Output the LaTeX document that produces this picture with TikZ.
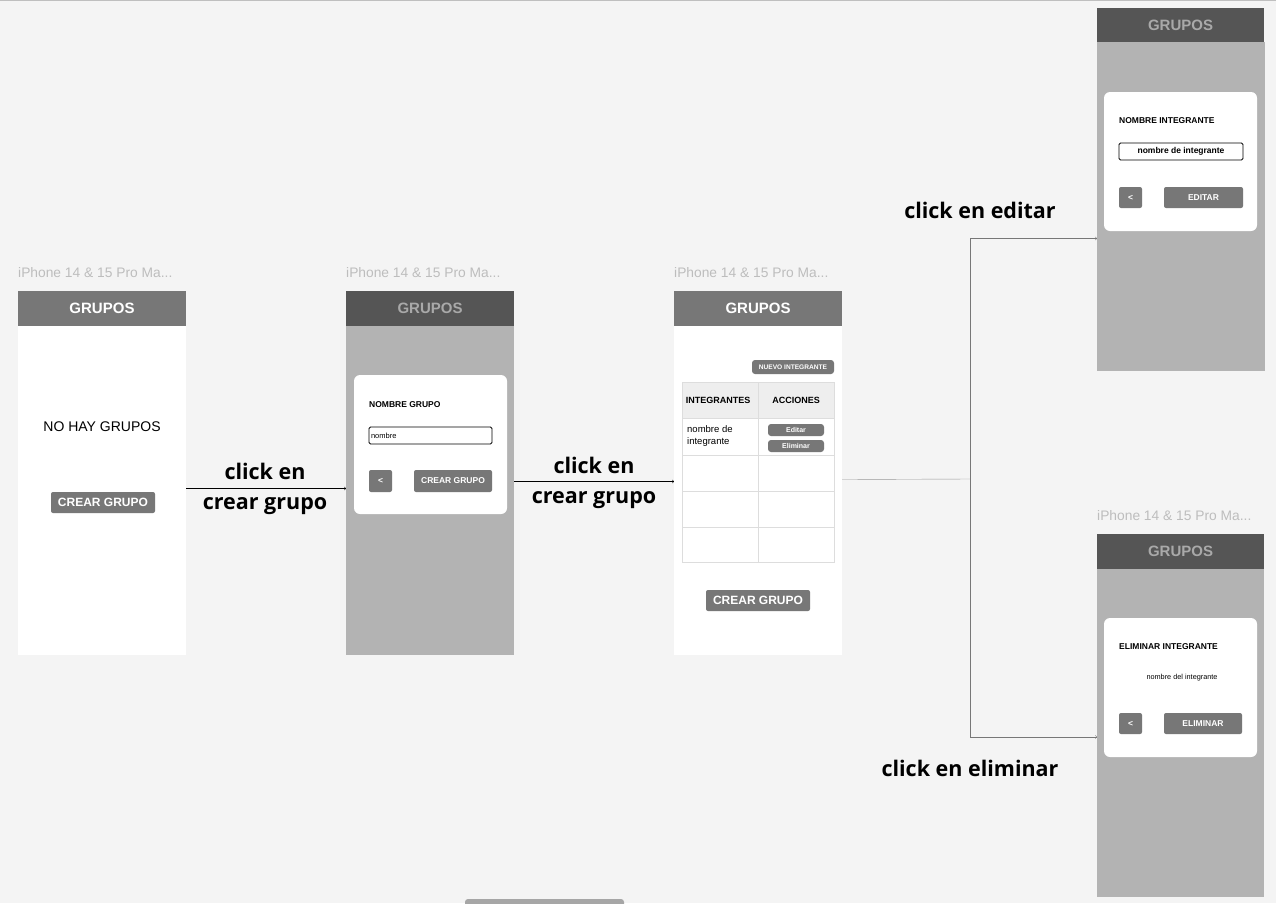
\documentclass[tikz,border=0pt]{standalone}
\usepackage{fontspec}
\setmainfont{Liberation Sans}
\newfontfamily\clickfont{Open Sans}
\usetikzlibrary{shapes,arrows,positioning,calc}
\definecolor{fondo}{HTML}{F4F4F4}
\definecolor{cabecera}{HTML}{777777}
\definecolor{cabeceraosc}{HTML}{555555}
\definecolor{textoosc}{HTML}{A9A9A9}
\definecolor{velo}{HTML}{B3B3B3}
\definecolor{boton}{HTML}{777777}
\definecolor{etiqueta}{HTML}{BDBDBD}
\definecolor{tcabeza}{HTML}{EEEEEE}
\definecolor{rejilla}{HTML}{DDDDDD}
\definecolor{flecha}{HTML}{777777}
\tikzset{
  caja/.style={rectangle, inner sep=0pt, outer sep=0pt, anchor=north west},
  cabeza/.style={caja, fill=cabecera, minimum width=168, minimum height=35, text=white, font=\bfseries\fontsize{15}{15}\selectfont},
  cabezaosc/.style={cabeza, fill=cabeceraosc, text=textoosc},
  cuerpo/.style={caja, minimum width=168, minimum height=329, fill=white},
  cuerpoosc/.style={cuerpo, fill=velo},
  dialogo/.style={caja, fill=white, rounded corners=6pt, minimum width=153, minimum height=139},
  boton/.style={caja, fill=boton, rounded corners=2pt, text=white, font=\bfseries\fontsize{8.5}{8.5}\selectfont},
  entrada/.style={caja, draw=black, fill=white, rounded corners=1.5pt, minimum height=17, line width=0.8pt},
  titulo/.style={anchor=west, inner sep=0pt, font=\bfseries\fontsize{8.5}{8.5}\selectfont},
  movil/.style={anchor=west, inner sep=0pt, text=etiqueta, font=\fontsize{13.8}{13.8}\selectfont},
  clic/.style={align=center, font=\clickfont\bfseries\fontsize{21.5}{30}\selectfont},
  punta/.style={-{stealth}, line width=0.7pt},
}
\begin{document}
\begin{tikzpicture}[x=1pt,y=-1pt]
  \useasboundingbox (0,0) rectangle (1276,903);
  \fill[fondo] (0,0) rectangle (1276,903);
  \draw[black!25, line width=1.5pt] (0,0.5) -- (1276,0.5);

  % pantalla 1: sin grupos
  \node (movil1) [movil] at (18,273) {iPhone 14 \& 15 Pro Ma...};
  \node (cuerpo1) [cuerpo] at (18,326) {};
  \node (cabeza1) [cabeza] at (18,291) {GRUPOS};
  \node (vacio1) at (102,427) [font=\fontsize{14}{14}\selectfont] {NO HAY GRUPOS};
  \node (crear1) [boton, minimum width=104, minimum height=21, font=\bfseries\fontsize{12}{12}\selectfont] at (51,492) {CREAR GRUPO};

  % pantalla 2: nombre del grupo
  \node (movil2) [movil] at (346,273) {iPhone 14 \& 15 Pro Ma...};
  \node (cuerpo2) [cuerpoosc] at (346,326) {};
  \node (cabeza2) [cabezaosc] at (346,291) {GRUPOS};
  \node (dialogo2) [dialogo] at (354,375) {};
  \node (titulo2) [titulo] at (369,405) {NOMBRE GRUPO};
  \node (entrada2) [entrada, minimum width=123, text width=119, inner xsep=2pt, align=left, font=\fontsize{7.5}{7.5}\selectfont] at (369,427) {nombre};
  \node (volver2) [boton, minimum width=23, minimum height=22] at (369,470) {<};
  \node (crear2) [boton, minimum width=78, minimum height=22] at (414,470) {CREAR GRUPO};

  % pantalla 3: tabla de integrantes
  \node (movil3) [movil] at (674,273) {iPhone 14 \& 15 Pro Ma...};
  \node (cuerpo3) [cuerpo] at (674,326) {};
  \node (cabeza3) [cabeza] at (674,291) {GRUPOS};
  \node (nuevo3) [boton, rounded corners=3pt, minimum width=82, minimum height=14, font=\bfseries\fontsize{6.6}{6.6}\selectfont] at (752,360) {NUEVO INTEGRANTE};
  \node (tcabeza3) [caja, fill=tcabeza, minimum width=152, minimum height=36] at (682,382) {};
  \node (tabla3) [caja, draw=rejilla, minimum width=152, minimum height=180] at (682,382) {};
  \foreach \y in {418,455,491,527}
    \draw[rejilla] (tabla3.west |- 0,\y) -- (tabla3.east |- 0,\y);
  \draw[rejilla] (758,382) -- (758,562);
  \node (integrantes3) at (718,400) [font=\bfseries\fontsize{9}{9}\selectfont] {INTEGRANTES};
  \node (acciones3) at (796,400) [font=\bfseries\fontsize{9}{9}\selectfont] {ACCIONES};
  \node (nombre3) [anchor=north west, inner sep=0pt, align=left, font=\fontsize{9.5}{12}\selectfont] at (687,425) {nombre de\\integrante};
  \node (editar3) [boton, rounded corners=3pt, minimum width=56, minimum height=12, font=\bfseries\fontsize{7}{7}\selectfont] at (768,424) {Editar};
  \node (eliminar3) [boton, rounded corners=3pt, minimum width=56, minimum height=12, font=\bfseries\fontsize{7}{7}\selectfont] at (768,440) {Eliminar};
  \node (crear3) [boton, minimum width=104, minimum height=21, font=\bfseries\fontsize{12}{12}\selectfont] at (706,590) {CREAR GRUPO};

  % pantalla 4: editar integrante
  \node (cuerpo4) [cuerpoosc] at (1097,42) {};
  \node (cabeza4) [cabezaosc, minimum width=167, minimum height=34] at (1097,8) {GRUPOS};
  \node (dialogo4) [dialogo] at (1104,92) {};
  \node (titulo4) [titulo] at (1119,121) {NOMBRE INTEGRANTE};
  \node (entrada4) [entrada, minimum width=124, font=\bfseries\fontsize{8.5}{8.5}\selectfont] at (1119,143) {nombre de integrante};
  \node (volver4) [boton, minimum width=23, minimum height=21] at (1119,187) {<};
  \node (editar4) [boton, minimum width=79, minimum height=21] at (1164,187) {EDITAR};

  % pantalla 5: eliminar integrante
  \node (movil5) [movil] at (1097,516) {iPhone 14 \& 15 Pro Ma...};
  \node (cuerpo5) [cuerpoosc, minimum width=167, minimum height=328] at (1097,569) {};
  \node (cabeza5) [cabezaosc, minimum width=167] at (1097,534) {GRUPOS};
  \node (dialogo5) [dialogo] at (1104,618) {};
  \node (titulo5) [titulo] at (1119,647) {ELIMINAR INTEGRANTE};
  \node (texto5) at (1182,678) [font=\fontsize{7.3}{7.3}\selectfont] {nombre del integrante};
  \node (volver5) [boton, minimum width=23, minimum height=21] at (1119,713) {<};
  \node (eliminar5) [boton, minimum width=78, minimum height=21] at (1164,713) {ELIMINAR};

  % barra inferior
  \node (barra) [caja, fill=black!35, rounded corners=3pt, minimum width=159, minimum height=12] at (465,899) {};

  % flechas
  \draw [->] ($(cuerpo1.east)+(0,-2)$) -- ($(cuerpo2.west)+(0,-2)$);
  \node (clic1) [clic] at (265,489) {click en\\crear grupo};
  \draw [->] ($(cuerpo2.east)+(0,-9)$) -- ($(cuerpo3.west)+(0,-9)$);
  \node (clic2) [clic] at (594,483) {click en\\crear grupo};
  \coordinate (cruce) at (970,479);
  \draw [black!40] ($(cuerpo3.east)+(0,-11)$) -- (cruce);
  \draw [->, flecha] (cruce) |- ($(cuerpo4.west)+(0,32)$);
  \draw [->, flecha] (cruce) |- ($(cuerpo5.west)+(0,4)$);
  \node (clic4) [clic] at (980,210) {click en editar};
  \node (clic5) [clic] at (970,768) {click en eliminar};
\end{tikzpicture}
\end{document}
